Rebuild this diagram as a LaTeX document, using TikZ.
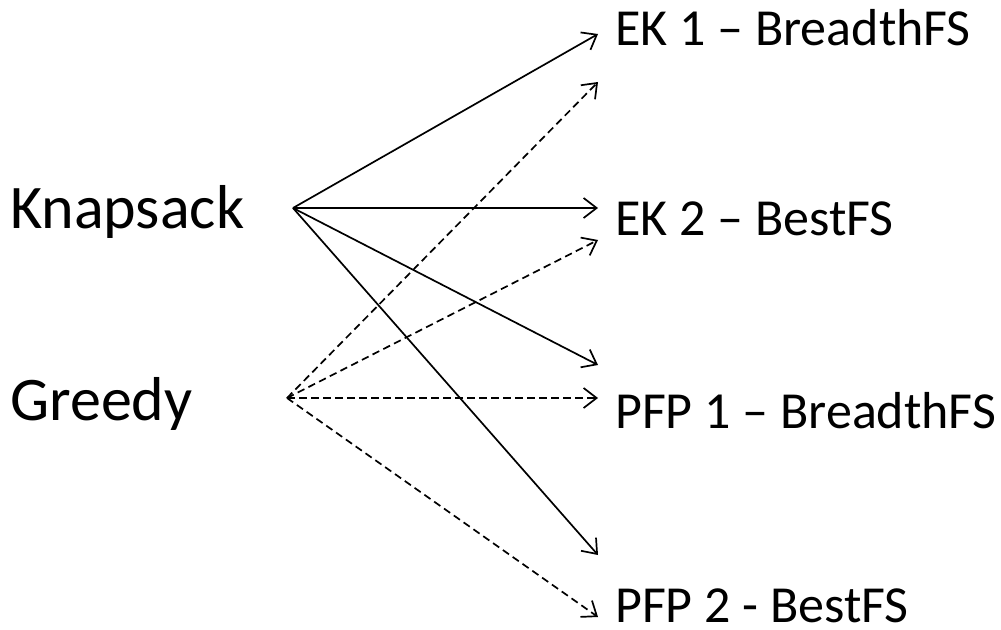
\documentclass[tikz,border=0pt]{standalone}
\usepackage{fontspec}
\setmainfont{Carlito}
\usetikzlibrary{arrows.meta}
\begin{document}
\begin{tikzpicture}[x=1bp,y=-1bp,
  lbl/.style={inner sep=0pt,anchor=base west,font=\fontsize{52bp}{60bp}\selectfont},
  src/.style={inner sep=0pt,anchor=base west,font=\fontsize{62bp}{70bp}\selectfont},
  arr/.style={line width=1.7bp,-{Straight Barb[length=13bp,width=20bp,line width=1.7bp]}},
  darr/.style={arr,dash pattern=on 7.5bp off 4.5bp}]
\useasboundingbox (0,0) rectangle (1001,630);
\node[src] (kn) at (10,229) {Knapsack};
\node[src] (gr) at (10,420) {Greedy};
\node[lbl] (ek1) at (615,46) {EK 1 – BreadthFS};
\node[lbl] (ek2) at (615,236) {EK 2 – BestFS};
\node[lbl] (pfp1) at (615,428) {PFP 1 – BreadthFS};
\node[lbl] (pfp2) at (615,622) {PFP 2 - BestFS};
\coordinate (K) at (293,208);
\coordinate (G) at (287,398);
\coordinate (s1) at (598,34);
\coordinate (s2) at (598,208);
\coordinate (s3) at (598,365);
\coordinate (s4) at (598,555);
\coordinate (d1) at (598,82);
\coordinate (d2) at (598,240);
\coordinate (d3) at (598,398);
\coordinate (d4) at (598,617);
\foreach \t in {s1,s2,s3,s4} \draw[arr] (K) -- (\t);
\foreach \t in {d1,d2,d3,d4} \draw[darr] (G) -- (\t);
\end{tikzpicture}
\end{document}
